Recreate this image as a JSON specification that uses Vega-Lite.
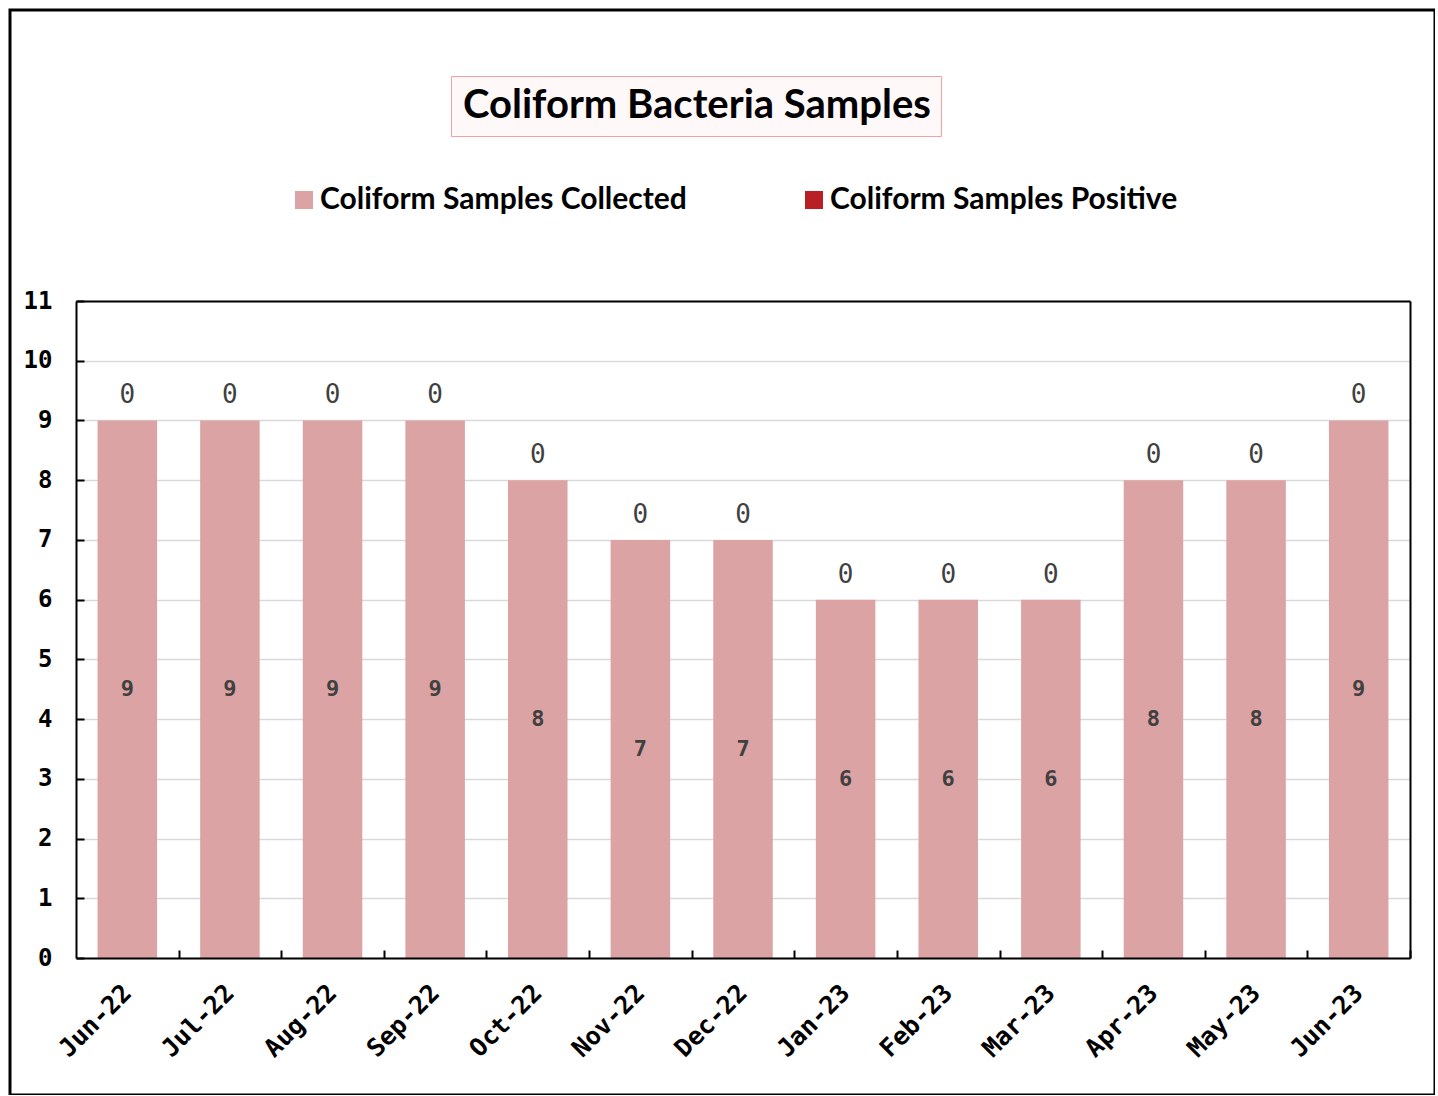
{
  "$schema": "https://vega.github.io/schema/vega-lite/v6.json",
  "width": 1425,
  "height": 1085,
  "autosize": {"type": "none"},
  "padding": {"left": 10, "top": 10, "right": 0, "bottom": 0},
  "background": "white",
  "view": {"stroke": "black", "strokeWidth": 3, "fill": "white"},
  "data": {
    "values": [
      {"month": "Jun-22", "series": "Coliform Samples Collected", "value": 9},
      {"month": "Jul-22", "series": "Coliform Samples Collected", "value": 9},
      {"month": "Aug-22", "series": "Coliform Samples Collected", "value": 9},
      {"month": "Sep-22", "series": "Coliform Samples Collected", "value": 9},
      {"month": "Oct-22", "series": "Coliform Samples Collected", "value": 8},
      {"month": "Nov-22", "series": "Coliform Samples Collected", "value": 7},
      {"month": "Dec-22", "series": "Coliform Samples Collected", "value": 7},
      {"month": "Jan-23", "series": "Coliform Samples Collected", "value": 6},
      {"month": "Feb-23", "series": "Coliform Samples Collected", "value": 6},
      {"month": "Mar-23", "series": "Coliform Samples Collected", "value": 6},
      {"month": "Apr-23", "series": "Coliform Samples Collected", "value": 8},
      {"month": "May-23", "series": "Coliform Samples Collected", "value": 8},
      {"month": "Jun-23", "series": "Coliform Samples Collected", "value": 9},
      {"month": "Jun-22", "series": "Coliform Samples Positive", "value": 0},
      {"month": "Jul-22", "series": "Coliform Samples Positive", "value": 0},
      {"month": "Aug-22", "series": "Coliform Samples Positive", "value": 0},
      {"month": "Sep-22", "series": "Coliform Samples Positive", "value": 0},
      {"month": "Oct-22", "series": "Coliform Samples Positive", "value": 0},
      {"month": "Nov-22", "series": "Coliform Samples Positive", "value": 0},
      {"month": "Dec-22", "series": "Coliform Samples Positive", "value": 0},
      {"month": "Jan-23", "series": "Coliform Samples Positive", "value": 0},
      {"month": "Feb-23", "series": "Coliform Samples Positive", "value": 0},
      {"month": "Mar-23", "series": "Coliform Samples Positive", "value": 0},
      {"month": "Apr-23", "series": "Coliform Samples Positive", "value": 0},
      {"month": "May-23", "series": "Coliform Samples Positive", "value": 0},
      {"month": "Jun-23", "series": "Coliform Samples Positive", "value": 0}
    ]
  },
  "transform": [
    {"stack": "value", "groupby": ["month"], "sort": [{"field": "series", "order": "ascending"}], "as": ["v0", "v1"]}
  ],
  "layer": [
    {
      "mark": {"type": "bar"},
      "encoding": {
        "x": {
          "field": "month", "type": "nominal", "sort": null,
          "scale": {"domain": ["Jun-22","Jul-22","Aug-22","Sep-22","Oct-22","Nov-22","Dec-22","Jan-23","Feb-23","Mar-23","Apr-23","May-23","Jun-23"], "range": [66, 1400], "paddingInner": 0.42, "paddingOuter": 0.21},
          "axis": {"orient": "bottom", "offset": -137, "title": null, "labelAngle": -45, "labelFont": "DejaVu Sans Mono", "labelFontSize": 25, "labelFontWeight": "bold", "labelColor": "black", "labelPadding": 30, "tickOffset": 51.3, "labelOffset": -60.3, "domainColor": "black", "domainWidth": 2, "tickColor": "black", "tickWidth": 2, "tickSize": -8, "labelOverlap": false, "labelBound": false, "grid": false, "zindex": 1}
        },
        "y": {
          "field": "v1", "type": "quantitative",
          "scale": {"domain": [0, 11], "range": [948, 291], "nice": false, "zero": false},
          "axis": {"orient": "left", "grid": true, "gridColor": "#d9d9d9", "gridWidth": 1.5, "labels": false, "ticks": false, "domain": false, "title": null, "values": [0,1,2,3,4,5,6,7,8,9,10,11], "zindex": 0}
        },
        "y2": {"field": "v0"},
        "color": {
          "field": "series", "type": "nominal",
          "scale": {"domain": ["Coliform Samples Collected", "Coliform Samples Positive"], "range": ["#DBA3A3", "#B82025"]},
          "legend": {"orient": "none", "legendX": 279, "legendY": 175, "direction": "horizontal", "title": null, "symbolType": "square", "symbolSize": 324, "symbolStrokeWidth": 0, "labelFont": "Lato", "labelFontSize": 30, "labelFontWeight": "bold", "labelColor": "black", "labelOffset": 1, "columnPadding": 112, "padding": 0, "labelLimit": 0}
        }
      }
    },
    {
      "transform": [{"filter": "datum.series === 'Coliform Samples Collected'"}],
      "mark": {"type": "text", "font": "DejaVu Sans Mono", "fontSize": 22, "fontWeight": "bold", "color": "#404040", "baseline": "middle", "align": "center"},
      "encoding": {
        "x": {"field": "month", "type": "nominal", "sort": null, "axis": null},
        "y": {"field": "v1", "type": "quantitative", "scale": {"domain": [0, 22], "range": [948, 291], "nice": false, "zero": false}, "axis": null},
        "text": {"field": "value", "type": "quantitative"}
      }
    },
    {
      "transform": [{"filter": "datum.series === 'Coliform Samples Positive'"}],
      "mark": {"type": "text", "font": "DejaVu Sans Mono", "fontSize": 26, "color": "#404040", "baseline": "middle", "align": "center", "dy": -25},
      "encoding": {
        "x": {"field": "month", "type": "nominal", "sort": null, "axis": null},
        "y": {
          "field": "v1", "type": "quantitative",
          "scale": {"domain": [0, 11], "range": [948, 291], "nice": false, "zero": false},
          "axis": {"orient": "left", "offset": -66, "title": null, "values": [0,1,2,3,4,5,6,7,8,9,10,11], "grid": false, "labelFont": "DejaVu Sans Mono", "labelFontSize": 24, "labelFontWeight": "bold", "labelColor": "black", "labelPadding": 32, "domainColor": "black", "domainWidth": 2, "tickColor": "black", "tickWidth": 2, "tickSize": -8, "zindex": 1}
        },
        "text": {"field": "value", "type": "quantitative"}
      }
    },
    {
      "transform": [{"filter": "datum.series === 'Coliform Samples Positive'"}],
      "mark": {"type": "point", "opacity": 0},
      "encoding": {
        "x": {"field": "month", "type": "nominal", "sort": null,
          "axis": {"orient": "top", "offset": -291, "title": null, "labels": false, "ticks": false, "grid": false, "domainColor": "black", "domainWidth": 2, "zindex": 1}},
        "y": {
          "field": "v1", "type": "quantitative",
          "scale": {"domain": [0, 11], "range": [948, 291], "nice": false, "zero": false},
          "axis": {"orient": "right", "offset": -25, "title": null, "labels": false, "ticks": false, "grid": false, "domainColor": "black", "domainWidth": 2, "zindex": 1}
        },
        "shape": {
          "datum": "Coliform Bacteria Samples", "type": "nominal",
          "legend": {"orient": "none", "legendX": 441, "legendY": 66, "title": null, "symbolSize": 0, "symbolOpacity": 0, "labelFont": "Lato", "labelFontSize": 40, "labelFontWeight": "bold", "labelColor": "black", "labelOffset": -38, "padding": 10, "strokeColor": "#F4A0A0", "fillColor": "#FFF8F8", "labelLimit": 0,
            "encode": {"legend": {"update": {"strokeWidth": {"value": 4}}}}}
        }
      }
    }
  ],
  "resolve": {"scale": {"y": "independent"}, "axis": {"x": "independent", "y": "independent"}}
}
